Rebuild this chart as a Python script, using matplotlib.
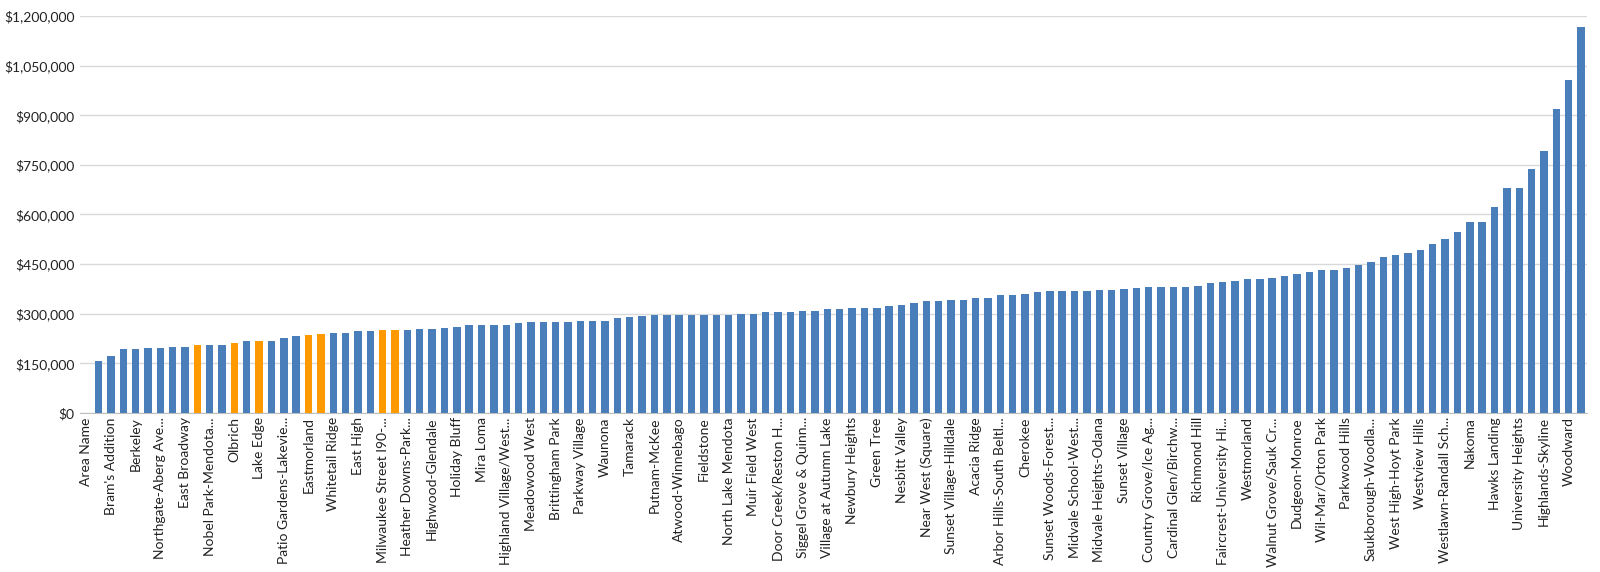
import numpy as np
import matplotlib
matplotlib.use('Agg')
import matplotlib.pyplot as plt
from matplotlib.ticker import FuncFormatter, MultipleLocator

# every other category carries a visible label in the source chart
SHOWN_LABELS = [
    'Area Name', "Bram's Addition", 'Berkeley', 'Northgate-Aberg Ave...',
    'East Broadway', 'Nobel Park-Mendota...', 'Olbrich', 'Lake Edge',
    'Patio Gardens-Lakevie...', 'Eastmorland', 'Whitetail Ridge', 'East High',
    'Milwaukee Street I90-...', 'Heather Downs-Park...', 'Highwood-Glendale',
    'Holiday Bluff', 'Mira Loma', 'Highland Village/West...', 'Meadowood West',
    'Brittingham Park', 'Parkway Village', 'Waunona', 'Tamarack', 'Putnam-McKee',
    'Atwood-Winnebago', 'Fieldstone', 'North Lake Mendota', 'Muir Field West',
    'Door Creek/Reston H...', 'Siggel Grove & Quinn...', 'Village at Autumn Lake',
    'Newbury Heights', 'Green Tree', 'Nesbitt Valley', 'Near West (Square)',
    'Sunset Village-Hilldale', 'Acacia Ridge', 'Arbor Hills-South Beltl...',
    'Cherokee', 'Sunset Woods-Forest...', 'Midvale School-West...',
    'Midvale Heights-Odana', 'Sunset Village', 'Country Grove/Ice Ag...',
    'Cardinal Glen/Birchw...', 'Richmond Hill', 'Faircrest-University Hi...',
    'Westmorland', 'Walnut Grove/Sauk Cr...', 'Dudgeon-Monroe',
    'Wil-Mar/Orton Park', 'Parkwood Hills', 'Saukborough-Woodla...',
    'West High-Hoyt Park', 'Westview Hills', 'Westlawn-Randall Sch...',
    'Nakoma', 'Hawks Landing', 'University Heights', 'Highlands-Skyline',
    'Woodward',
]

# median value per area, in thousands of dollars
VALUES_K = [
    0, 157, 172, 194, 194, 197, 197, 200, 200, 204,
    204, 207, 211, 218, 218, 218, 228, 232, 235, 239,
    242, 242, 247, 247, 250, 250, 250, 254, 254, 257,
    260, 267, 267, 267, 267, 271, 275, 275, 275, 275,
    279, 279, 279, 286, 290, 293, 297, 297, 297, 297,
    297, 297, 297, 300, 300, 304, 304, 304, 308, 308,
    314, 314, 318, 318, 318, 322, 325, 333, 339, 339,
    343, 343, 347, 347, 357, 357, 361, 365, 368, 368,
    368, 368, 371, 371, 374, 377, 381, 381, 381, 381,
    385, 392, 396, 399, 404, 404, 407, 414, 421, 425,
    431, 433, 437, 447, 455, 472, 479, 483, 494, 511,
    525, 547, 578, 578, 622, 681, 681, 738, 791, 919,
    1008, 1167,
]

HIGHLIGHT = [9, 12, 14, 18, 19, 24, 25]

BLUE = '#4A7EBB'
ORANGE = '#FF9900'

values = np.array(VALUES_K) * 1000
x = np.arange(len(values))
colors = [ORANGE if i in HIGHLIGHT else BLUE for i in x]

plt.rcParams['font.family'] = ['Lato', 'DejaVu Sans']

fig = plt.figure(figsize=(16, 5.72), dpi=100)
ax = fig.add_axes([0.05, 0.278, 0.942, 0.694])

ax.bar(x, values, width=0.6, color=colors, zorder=3)

ax.set_xlim(-0.5, len(values) - 0.5)
ax.set_ylim(0, 1_200_000)
ax.yaxis.set_major_locator(MultipleLocator(150_000))
ax.yaxis.set_major_formatter(FuncFormatter(lambda v, p: f'${v:,.0f}'))
ax.grid(axis='y', color='#d9d9d9', lw=1, zorder=0)

ax.set_xticks(x[::2], SHOWN_LABELS, rotation=90, ha='center', va='top')
ax.tick_params(axis='x', length=0, pad=3, labelsize=10, labelcolor='#222222')
ax.tick_params(axis='y', length=0, pad=4, labelsize=10, labelcolor='#222222')

for side in ['left', 'right', 'top']:
    ax.spines[side].set_visible(False)
ax.spines['bottom'].set_color('#bfbfbf')

fig.savefig('out.png', dpi=100)
